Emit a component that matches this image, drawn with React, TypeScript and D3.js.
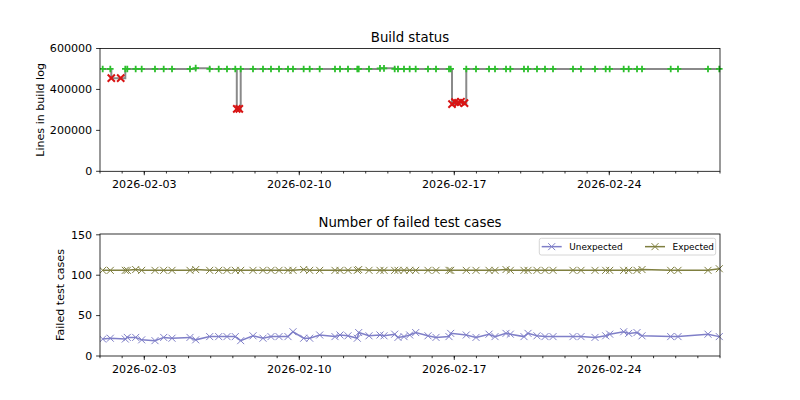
import React from "react";
import * as d3 from "d3";

// ---------- data ----------
const successDates = [
  "2026-02-01T02:56", "2026-02-01T11:10", "2026-02-02T03:25", "2026-02-02T05:35", "2026-02-02T14:41",
  "2026-02-02T21:12", "2026-02-03T11:36", "2026-02-03T21:03", "2026-02-04T06:03", "2026-02-05T01:32",
  "2026-02-05T07:43", "2026-02-05T22:54", "2026-02-06T08:40", "2026-02-06T17:38", "2026-02-07T02:38",
  "2026-02-07T08:30", "2026-02-07T21:50", "2026-02-08T08:40", "2026-02-08T17:20", "2026-02-09T02:01",
  "2026-02-09T11:46", "2026-02-09T17:11", "2026-02-10T04:46", "2026-02-10T11:17", "2026-02-10T22:07",
  "2026-02-11T14:42", "2026-02-11T20:08", "2026-02-12T04:48", "2026-02-12T14:53", "2026-02-12T16:24",
  "2026-02-13T03:33", "2026-02-13T15:29", "2026-02-13T19:49", "2026-02-14T07:25", "2026-02-14T10:59",
  "2026-02-14T17:30", "2026-02-14T23:40", "2026-02-15T06:10", "2026-02-15T19:30", "2026-02-16T04:11",
  "2026-02-16T18:16", "2026-02-16T20:07", "2026-02-17T13:00", "2026-02-17T23:32", "2026-02-18T13:38",
  "2026-02-18T20:08", "2026-02-19T08:04", "2026-02-19T12:43", "2026-02-20T03:33", "2026-02-20T07:54",
  "2026-02-20T17:38", "2026-02-21T02:19", "2026-02-21T11:00", "2026-02-22T08:40", "2026-02-22T17:20",
  "2026-02-23T08:31", "2026-02-23T20:07", "2026-02-24T00:27", "2026-02-24T15:37", "2026-02-24T21:02",
  "2026-02-25T06:03", "2026-02-25T11:28", "2026-02-26T18:35", "2026-02-27T02:28", "2026-02-28T10:59",
  "2026-02-28T23:14",
];
const successLines = [
  500000, 500000, 500000, 500000, 500000, 500000, 500000, 500000, 500000, 500000,
  504000, 500000, 500000, 500000, 500000, 500000, 500000, 500000, 500000, 500000,
  500000, 500000, 500000, 500000, 500000, 500000, 500000, 500000, 500000, 500000,
  500000, 503000, 503000, 500000, 500000, 500000, 500000, 500000, 500000, 500000,
  500000, 500000, 500000, 500000, 500000, 500000, 500000, 500000, 500000, 500000,
  500000, 500000, 500000, 500000, 500000, 500000, 500000, 500000, 500000, 500000,
  500000, 500000, 500000, 500000, 500000, 500000,
];
const failureDates = [
  "2026-02-01T12:15", "2026-02-01T22:26", "2026-02-07T04:16", "2026-02-07T06:59",
  "2026-02-16T21:32", "2026-02-17T00:46", "2026-02-17T04:02", "2026-02-17T07:16", "2026-02-17T11:04",
];
const failureLines = [455000, 455000, 305000, 305000, 328000, 338000, 335000, 340000, 333000];

const testDates = successDates;
const unexpectedFailures = [
  21, 22, 21, 23, 23, 20, 19, 23, 22, 23,
  20, 24, 24, 24, 24, 19, 25, 22, 24, 24,
  24, 30, 22, 22, 26, 24, 26, 25, 22, 29,
  25, 26, 25, 27, 23, 24, 26, 29, 25, 23,
  24, 28, 26, 23, 27, 24, 28, 27, 24, 28,
  25, 24, 24, 24, 24, 23, 25, 27, 30, 28,
  29, 25, 24, 24, 27, 24,
];
const expectedFailures = [
  106, 106, 106, 106, 107, 106, 106, 106, 106, 106,
  107, 106, 106, 106, 106, 106, 106, 106, 106, 106,
  106, 106, 107, 106, 106, 106, 106, 106, 106, 107,
  106, 106, 106, 106, 106, 106, 106, 106, 106, 106,
  106, 106, 106, 106, 106, 106, 107, 106, 106, 106,
  106, 106, 106, 106, 106, 106, 106, 106, 106, 106,
  106, 107, 106, 106, 106, 108,
];

const xDomain = ["2026-02-01T00:00", "2026-03-01T00:00"];
const majorTickLabels = ["2026-02-03", "2026-02-10", "2026-02-17", "2026-02-24"];
const topYTicks = [0, 200000, 400000, 600000];
const topYMax = 600000;
const bottomYTicks = [0, 50, 100, 150];
const bottomYMax = 151;
const seriesNames = ["Unexpected", "Expected"];

// ---------- layout / style ----------
const W = 800, H = 400;
const X0 = 100, X1 = 720;
const TOP = { y0: 48.5, y1: 171.3 };
const BOT = { y0: 234, y1: 356 };
const FONT = "DejaVu Sans, sans-serif";
const TICK_FS = 11.1;
const GREEN = "#2cbf2c";
const RED = "#d81414";
const STEP_GRAY = "#8a8a8a";
const UNEXP = "#7f7fc8";
const EXP = "#7f7f3f";

const parse = d3.utcParse("%Y-%m-%dT%H:%M");
const parseDay = d3.utcParse("%Y-%m-%d");

function XMark({ x, y, s, color, w }: { x: number; y: number; s: number; color: string; w: number }) {
  return (
    <path
      d={`M${x - s},${y - s}L${x + s},${y + s}M${x - s},${y + s}L${x + s},${y - s}`}
      stroke={color}
      strokeWidth={w}
      fill="none"
    />
  );
}
function PlusMark({ x, y, s, color, w }: { x: number; y: number; s: number; color: string; w: number }) {
  return (
    <path d={`M${x - s},${y}L${x + s},${y}M${x},${y - s}L${x},${y + s}`} stroke={color} strokeWidth={w} fill="none" />
  );
}

function XAxis({ x, y }: { x: d3.ScaleTime<number, number>; y: number }) {
  const minor = d3.utcDay.range(x.domain()[0], d3.utcDay.offset(x.domain()[1], 1)).filter(
    (d) => x(d) >= X0 - 0.5 && x(d) <= X1 + 0.5
  );
  return (
    <g>
      {minor.map((d, i) => (
        <line key={i} x1={x(d)} x2={x(d)} y1={y} y2={y + 2.2} stroke="#000" strokeWidth={0.8} />
      ))}
      {majorTickLabels.map((t) => {
        const d = parseDay(t)!;
        return (
          <g key={t}>
            <line x1={x(d)} x2={x(d)} y1={y} y2={y + 3.9} stroke="#000" strokeWidth={0.8} />
            <text x={x(d)} y={y + 7.8} dy="0.8em" textAnchor="middle" fontSize={TICK_FS} fontFamily={FONT}>
              {t}
            </text>
          </g>
        );
      })}
    </g>
  );
}

function YAxis({ y, ticks }: { y: d3.ScaleLinear<number, number>; ticks: number[] }) {
  return (
    <g>
      {ticks.map((t) => (
        <g key={t}>
          <line x1={X0 - 3.9} x2={X0} y1={y(t)} y2={y(t)} stroke="#000" strokeWidth={0.8} />
          <text x={X0 - 7.8} y={y(t)} dy="0.35em" textAnchor="end" fontSize={TICK_FS} fontFamily={FONT}>
            {t}
          </text>
        </g>
      ))}
    </g>
  );
}

export default function App() {
  const x = d3.scaleUtc().domain(xDomain.map((d) => parse(d)!)).range([X0, X1]);
  const yTop = d3.scaleLinear().domain([0, topYMax]).range([TOP.y1, TOP.y0]);
  const yBot = d3.scaleLinear().domain([0, bottomYMax]).range([BOT.y1, BOT.y0]);

  const builds = [
    ...successDates.map((d, i) => ({ date: parse(d)!, lines: successLines[i], ok: true })),
    ...failureDates.map((d, i) => ({ date: parse(d)!, lines: failureLines[i], ok: false })),
  ].sort((a, b) => +a.date - +b.date);

  const stepLine = d3
    .line<{ date: Date; lines: number }>()
    .x((d) => x(d.date))
    .y((d) => yTop(d.lines))
    .curve(d3.curveStepAfter);

  const tests = testDates.map((d, i) => ({ date: parse(d)!, u: unexpectedFailures[i], e: expectedFailures[i] }));
  const uLine = d3.line<(typeof tests)[0]>().x((d) => x(d.date)).y((d) => yBot(d.u));
  const eLine = d3.line<(typeof tests)[0]>().x((d) => x(d.date)).y((d) => yBot(d.e));

  const legX = 539.3, legY = 238.3, legW = 176.4, legH = 16.7;
  const legMid = legY + legH / 2;

  return (
    <svg width={W} height={H} style={{ position: "absolute", left: 0, top: 0, background: "#fff" }}>
      <rect x={0} y={0} width={W} height={H} fill="#fff" />
      <defs>
        <clipPath id="clipTop">
          <rect x={X0} y={TOP.y0 - 10} width={X1 - X0 + 6} height={TOP.y1 - TOP.y0 + 10} />
        </clipPath>
        <clipPath id="clipBot">
          <rect x={X0} y={BOT.y0} width={X1 - X0 + 6} height={BOT.y1 - BOT.y0} />
        </clipPath>
      </defs>

      {/* ---------- Top chart ---------- */}
      <text x={(X0 + X1) / 2} y={TOP.y0 - 7} textAnchor="middle" fontSize={13.3} fontFamily={FONT}>
        Build status
      </text>
      <g clipPath="url(#clipTop)">
        <path d={stepLine(builds) || ""} fill="none" stroke={STEP_GRAY} strokeWidth={2} />
        {builds
          .filter((b) => b.ok)
          .map((b, i) => (
            <PlusMark key={"s" + i} x={x(b.date)} y={yTop(b.lines)} s={3.3} color={GREEN} w={1.8} />
          ))}
        {builds
          .filter((b) => !b.ok)
          .map((b, i) => (
            <XMark key={"f" + i} x={x(b.date)} y={yTop(b.lines)} s={3.6} color={RED} w={2} />
          ))}
      </g>
      <rect x={X0} y={TOP.y0} width={X1 - X0} height={TOP.y1 - TOP.y0} fill="none" stroke="#000" strokeWidth={0.8} />
      <YAxis y={yTop} ticks={topYTicks} />
      <XAxis x={x} y={TOP.y1} />
      <text
        transform={`translate(${40},${(TOP.y0 + TOP.y1) / 2}) rotate(-90)`}
        textAnchor="middle"
        dy="0.35em"
        fontSize={TICK_FS}
        fontFamily={FONT}
      >
        Lines in build log
      </text>

      {/* ---------- Bottom chart ---------- */}
      <text x={(X0 + X1) / 2} y={BOT.y0 - 7} textAnchor="middle" fontSize={13.3} fontFamily={FONT}>
        Number of failed test cases
      </text>
      <g clipPath="url(#clipBot)">
        <path d={uLine(tests) || ""} fill="none" stroke={UNEXP} strokeWidth={1.5} />
        <path d={eLine(tests) || ""} fill="none" stroke={EXP} strokeWidth={1.5} />
        {tests.map((t, i) => (
          <XMark key={"u" + i} x={x(t.date)} y={yBot(t.u)} s={3.5} color={UNEXP} w={1} />
        ))}
        {tests.map((t, i) => (
          <XMark key={"e" + i} x={x(t.date)} y={yBot(t.e)} s={3.5} color={EXP} w={1} />
        ))}
      </g>
      <rect x={X0} y={BOT.y0} width={X1 - X0} height={BOT.y1 - BOT.y0} fill="none" stroke="#000" strokeWidth={0.8} />
      <YAxis y={yBot} ticks={bottomYTicks} />
      <XAxis x={x} y={BOT.y1} />
      <text
        transform={`translate(${60},${(BOT.y0 + BOT.y1) / 2}) rotate(-90)`}
        textAnchor="middle"
        dy="0.35em"
        fontSize={TICK_FS}
        fontFamily={FONT}
      >
        Failed test cases
      </text>

      {/* legend */}
      <rect x={legX} y={legY} width={legW} height={legH} rx={2} fill="#fff" fillOpacity={0.8} stroke="#cccccc" strokeWidth={0.8} />
      {[UNEXP, EXP].map((c, i) => {
        const hx = i === 0 ? 541.7 : 645;
        return (
          <g key={i}>
            <line x1={hx} x2={hx + 20} y1={legMid} y2={legMid} stroke={c} strokeWidth={1.5} />
            <XMark x={hx + 10} y={legMid} s={3.5} color={c} w={1} />
            <text x={hx + 27.6} y={legMid} dy="0.35em" fontSize={8.9} fontFamily={FONT}>
              {seriesNames[i]}
            </text>
          </g>
        );
      })}
    </svg>
  );
}
